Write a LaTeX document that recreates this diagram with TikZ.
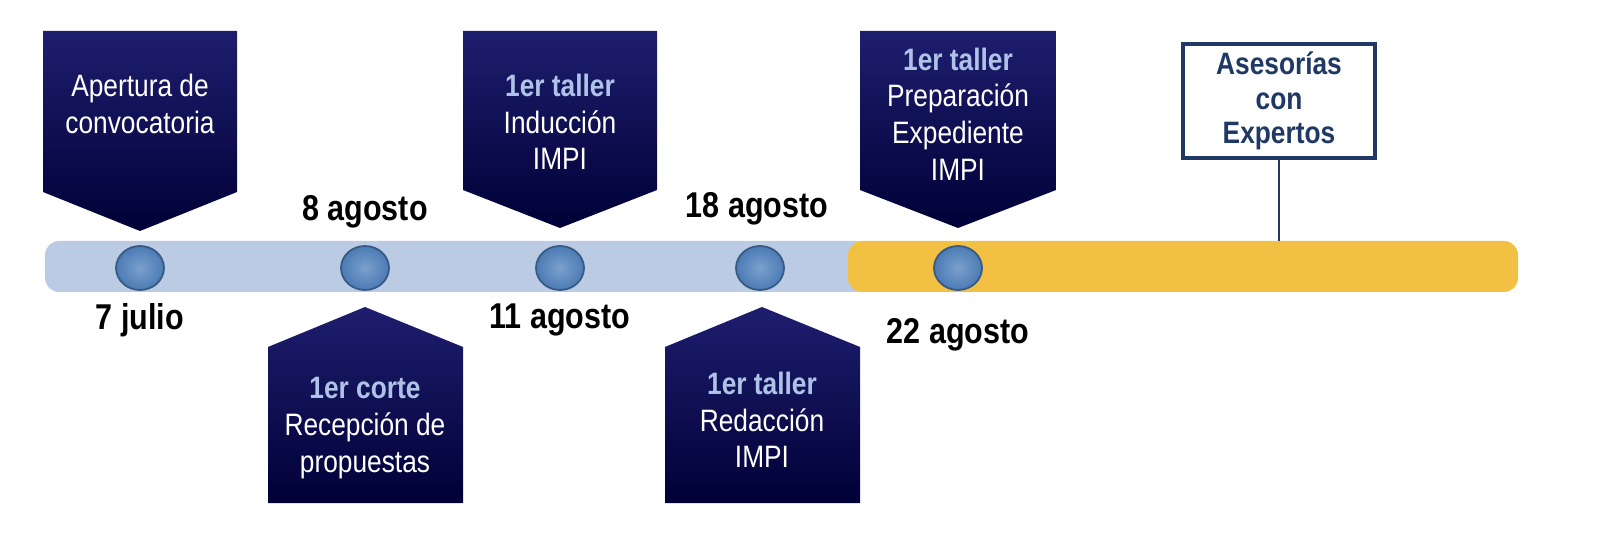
\documentclass[tikz,border=0pt]{standalone}
\usepackage{fontspec}
\setmainfont{Liberation Sans}[FakeStretch=0.85]
\definecolor{boxtop}{RGB}{30,30,110}
\definecolor{boxbot}{RGB}{0,0,55}
\definecolor{barblue}{RGB}{188,203,228}
\definecolor{baryel}{RGB}{242,193,67}
\definecolor{dotc}{RGB}{79,129,189}
\definecolor{lite}{RGB}{175,195,232}
\definecolor{asblue}{RGB}{31,56,100}
\begin{document}
\begin{tikzpicture}[x=0.01cm,y=-0.01cm,
  flag/.style={top color=boxtop,bottom color=boxbot,draw=none},
  btxt/.style={text=white,align=center,font=\fontsize{8.8}{10.4}\selectfont},
  date/.style={font=\fontsize{10.2}{12}\selectfont\bfseries,text=black},
  hi/.style={text=lite,font=\bfseries}]
\useasboundingbox (0,0) rectangle (1600,555);
% bar
\fill[barblue,rounded corners=4] (45,241) rectangle (870,292);
\fill[baryel,rounded corners=4] (848,241) rectangle (1518,292);
% flags down
\shade[flag] (43,31) -- (237,31) -- (237,192) -- (140,231) -- (43,192) -- cycle;
\shade[flag] (463,31) -- (657,31) -- (657,190) -- (560,228) -- (463,190) -- cycle;
\shade[flag] (860,31) -- (1056,31) -- (1056,190) -- (958,228) -- (860,190) -- cycle;
% flags up
\shade[flag] (268,347) -- (365,307) -- (463,347) -- (463,503) -- (268,503) -- cycle;
\shade[flag] (665,347) -- (762,307) -- (860,347) -- (860,503) -- (665,503) -- cycle;
\node[btxt] (f1) at (140,104) {Apertura de\\convocatoria};
\node[btxt] (f3) at (560,122) {{\color{lite}\bfseries 1er taller}\\Inducción\\IMPI};
\node[btxt] (f5) at (958,114) {{\color{lite}\bfseries 1er taller}\\Preparación\\Expediente\\IMPI};
\node[btxt] (f2) at (365,428) {{\color{lite}\bfseries 1er corte}\\Recepción de\\propuestas};
\node[btxt] (f4) at (762,420) {{\color{lite}\bfseries 1er taller}\\Redacción\\IMPI};
% dots
\foreach \n/\x in {d1/140,d2/365,d3/560,d4/760,d5/958}{
  \shade[inner color=dotc!75!white,outer color=dotc!95!black,draw=dotc!70!black,line width=0.5pt] (\x,268) ellipse (24 and 22);
  \coordinate (\n) at (\x,268);}
% dates
\node[date] (t1) at (140,320) {7 julio};
\node[date] (t2) at (365,212) {8 agosto};
\node[date] (t3) at (560,320) {11 agosto};
\node[date] (t4) at (757,209) {18 agosto};
\node[date] (t5) at (958,335) {22 agosto};
% asesorias
\node[draw=asblue,line width=1.2pt,text=asblue,align=center,
  font=\fontsize{8.8}{9.8}\selectfont\bfseries,inner sep=0,minimum width=1.92cm,minimum height=1.14cm]
  (as) at (1279,101) {Asesorías\\con\\Expertos};
\coordinate (asb) at (1279,241);
\draw[asblue,line width=0.8pt] (as.south) -- (asb);
\end{tikzpicture}
\end{document}
